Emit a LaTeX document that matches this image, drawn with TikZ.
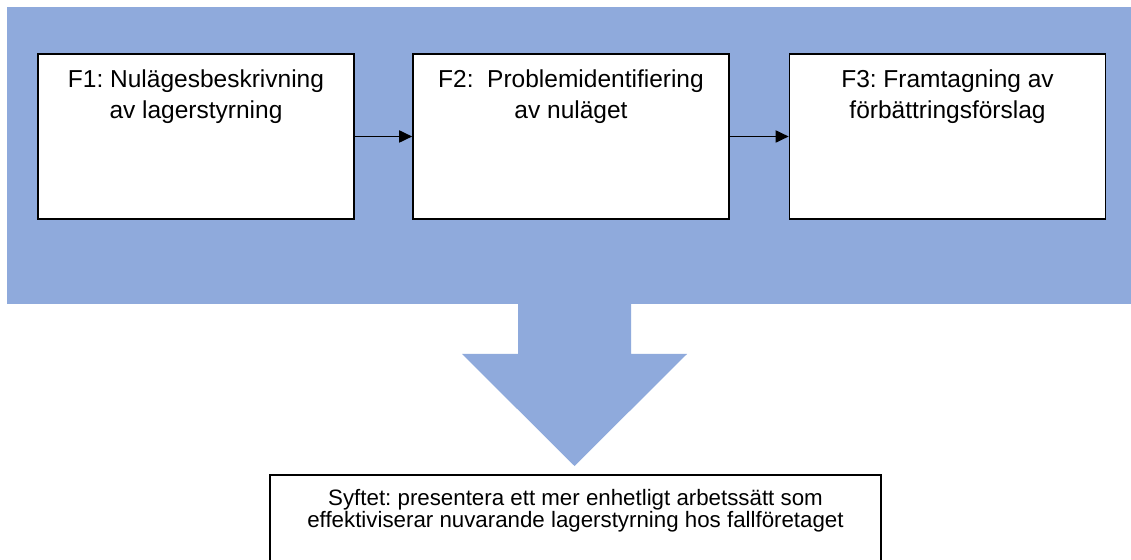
\documentclass[tikz,border=0pt]{standalone}
\usepackage{fontspec}
\setmainfont{Liberation Sans}
\usetikzlibrary{arrows.meta}
\definecolor{bandblue}{HTML}{8FAADC}
\begin{document}
\frenchspacing
\begin{tikzpicture}[x=1bp,y=-1bp,
  stagebox/.style={draw=black, line width=1.6bp, fill=white, rectangle, inner sep=0,
                   minimum width=316bp, minimum height=165bp},
  stagetext/.style={anchor=north, inner sep=0, align=center,
                    font=\fontsize{24.5bp}{31.5bp}\selectfont},
  goalbox/.style={draw=black, line width=1.6bp, fill=white, rectangle, inner sep=0,
                  minimum width=611bp, minimum height=110bp},
  goaltext/.style={anchor=north, inner sep=0, align=center,
                   font=\fontsize{22.3bp}{19.8bp}\selectfont},
  flow/.style={line width=1.8bp, -{Triangle[length=13bp,width=12bp]}},
]
\useasboundingbox (0,0) rectangle (1131,560);
\fill[white] (0,0) rectangle (1131,560);

% blue band behind the three stages
\fill[bandblue] (7,7) rectangle (1131,304);
% broad downward arrow leaving the band
\fill[bandblue] (518,300) -- (631,300) -- (631,354) -- (687,354) -- (574.5,466)
  -- (462,354) -- (518,354) -- cycle;

% stages
\node[stagebox] (f1) at (196,136.5) {};
\node[stagebox] (f2) at (571,136.5) {};
\node[stagebox] (f3) at (947.5,136.5) {};
\node[stagetext] (f1t) at (196,69.5) {F1: Nulägesbeskrivning\\av lagerstyrning};
\node[stagetext] (f2t) at (571,69.5) {F2:\ \ Problemidentifiering\\av nuläget};
\node[stagetext] (f3t) at (947.5,69.5) {F3: Framtagning av\\förbättringsförslag};

\draw[flow] (f1.east) -- (f2.west);
\draw[flow] (f2.east) -- (f3.west);

% purpose box, running past the lower edge
\begin{scope}
  \clip (0,0) rectangle (1131,560);
  \node[goalbox] (goal) at (575.5,530) {};
\end{scope}
\node[goaltext] (goalt) at (575.5,489) {Syftet: presentera ett mer enhetligt arbetssätt som\\effektiviserar nuvarande lagerstyrning hos fallföretaget};
\end{tikzpicture}
\end{document}
